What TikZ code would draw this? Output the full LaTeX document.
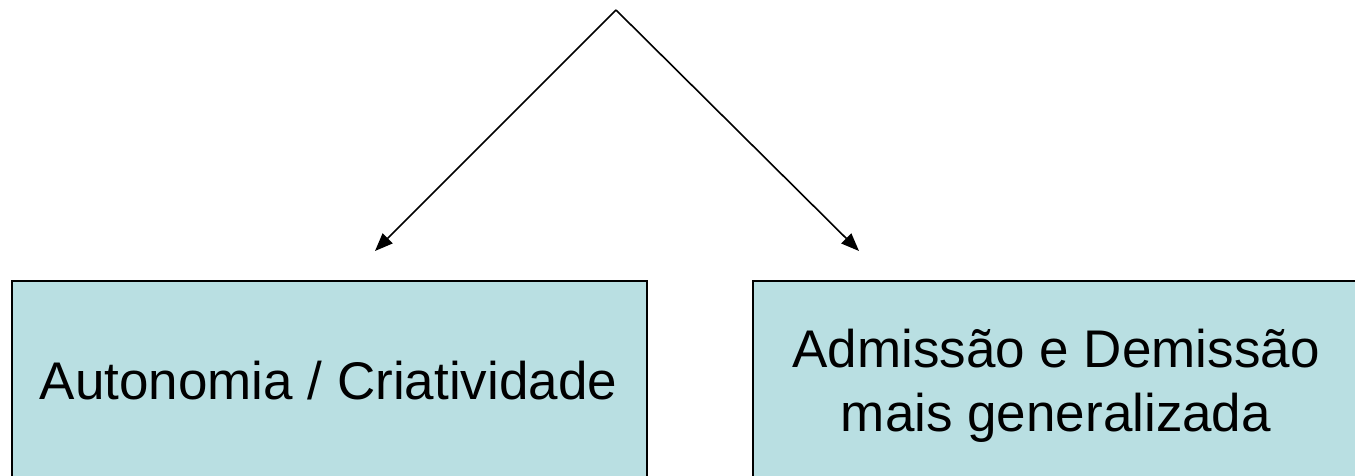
\documentclass[tikz,border=0pt]{standalone}
\usepackage{fontspec}
\setmainfont{Liberation Sans}
\usetikzlibrary{arrows.meta}
\definecolor{boxfill}{RGB}{185,223,226}
\tikzset{
  conceptbox/.style={draw=black, line width=2.2pt, fill=boxfill, minimum width=635pt, minimum height=210pt, inner sep=0pt},
  boxtext/.style={inner sep=0pt, align=center, font=\fontsize{53}{64}\selectfont},
  arrowline/.style={line width=1.6pt, -{Triangle[length=18pt,width=14pt]}}
}
\begin{document}
\begin{tikzpicture}[x=1pt,y=-1pt]
\useasboundingbox (0,0) rectangle (1355,475);
\clip (0,0) rectangle (1355,475);
\coordinate (apex) at (616,10);
\coordinate (ltip) at (375,251);
\coordinate (rtip) at (859,251);
\node[conceptbox] (left) at (329.5,386) {};
\node[conceptbox] (right) at (1070.5,386) {};
\node[boxtext, anchor=base] (lefttext) at (328.5,399) {Autonomia / Criatividade};
\node[boxtext] (righttext) at (1056,386) {Admissão e Demissão\\mais generalizada};
\draw[arrowline] (apex) -- (ltip);
\draw[arrowline] (apex) -- (rtip);
\end{tikzpicture}
\end{document}
